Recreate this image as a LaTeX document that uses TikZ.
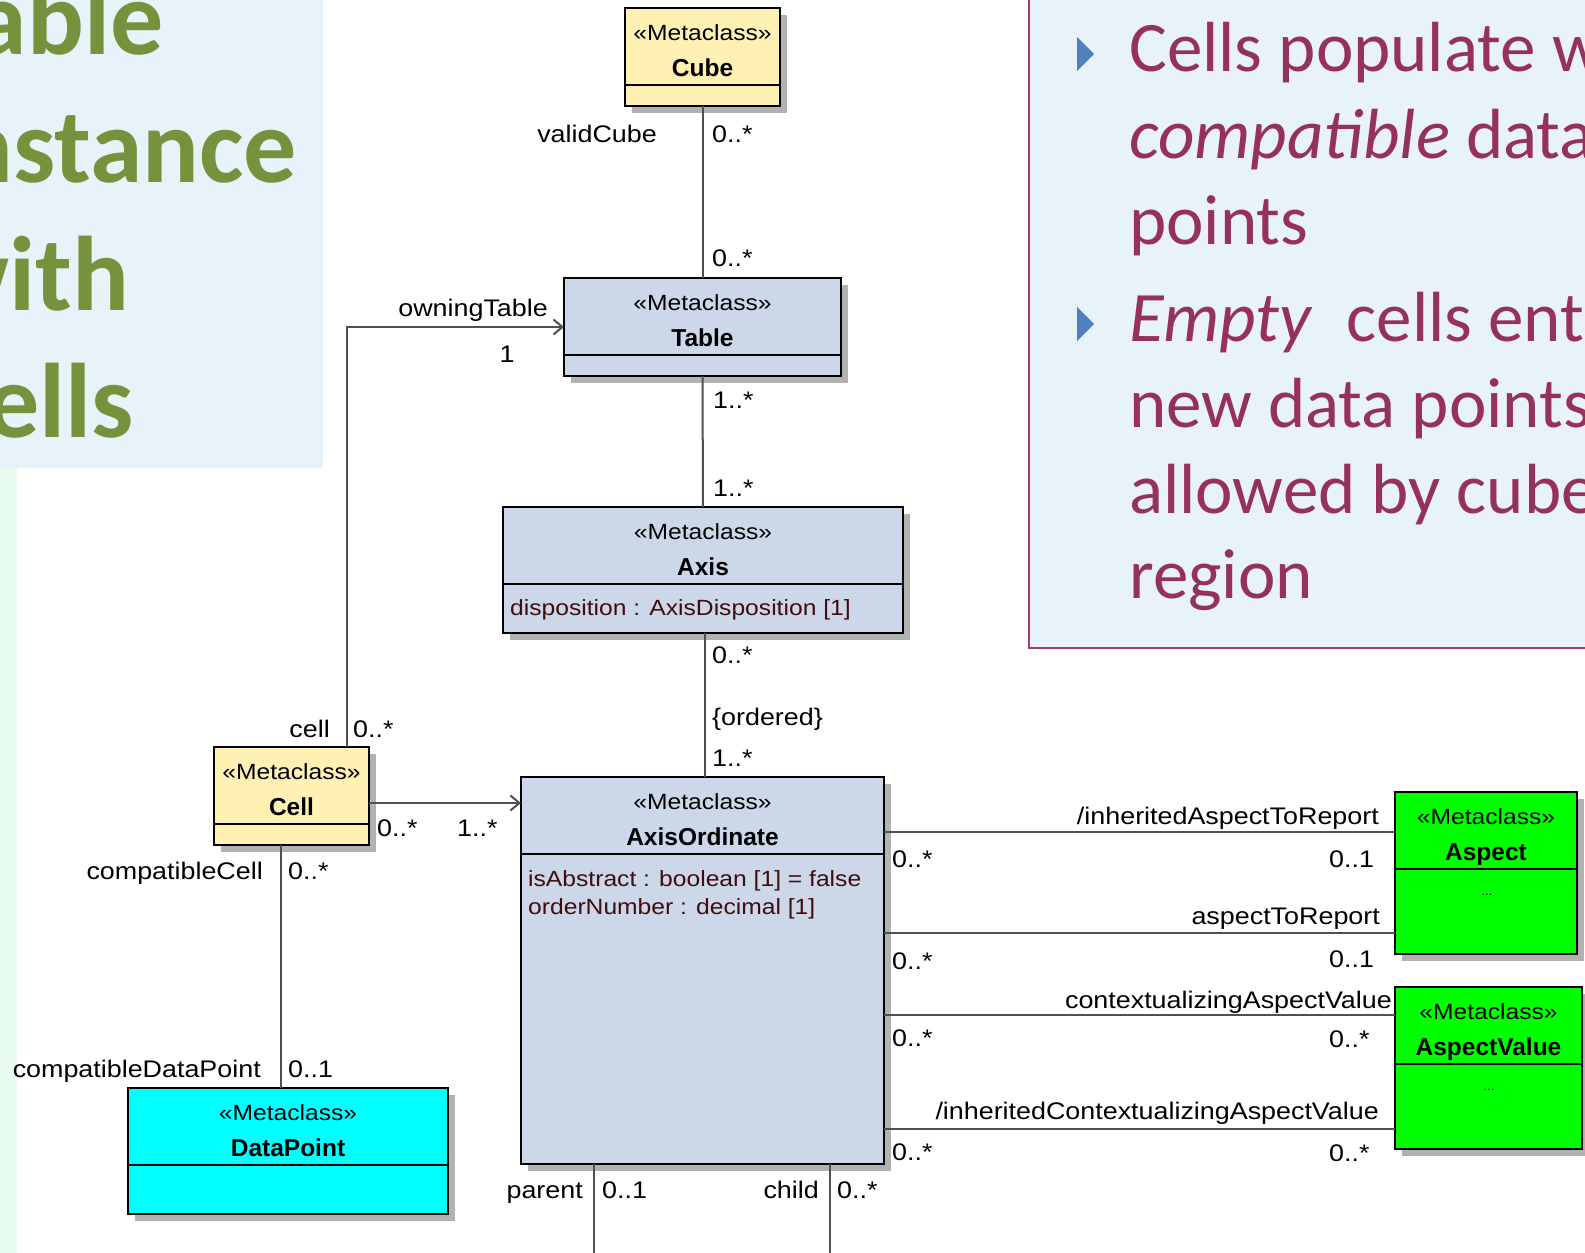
\documentclass[tikz,border=0pt]{standalone}
\usepackage{fontspec}
\setmainfont{Liberation Sans}
\newfontfamily\umlreg[FakeStretch=1.12]{Liberation Sans}
\newfontfamily\umlbf{Liberation Sans}
\newfontfamily\slidefam{Carlito}
\usetikzlibrary{arrows.meta}

\definecolor{yellowcls}{RGB}{255,240,180}
\definecolor{bluecls}{RGB}{204,215,234}
\definecolor{cyancls}{RGB}{0,255,255}
\definecolor{greencls}{RGB}{0,255,0}
\definecolor{shadowgray}{RGB}{178,178,178}
\definecolor{linegray}{RGB}{80,80,80}
\definecolor{attrred}{RGB}{64,12,12}
\definecolor{titlebg}{RGB}{231,243,249}
\definecolor{mint}{RGB}{233,252,240}
\definecolor{titlegreen}{RGB}{118,146,60}
\definecolor{bodymaroon}{RGB}{150,48,96}
\definecolor{panelborder}{RGB}{160,64,112}
\definecolor{bulletblue}{RGB}{79,129,189}

\newcommand\boxreg{\umlreg\fontsize{22}{26}\selectfont}
\newcommand\boxbold{\umlbf\bfseries\fontsize{24.5}{28}\selectfont}
\newcommand\lblfont{\umlreg\fontsize{24}{28}\selectfont}
\newcommand\tinydots{\umlreg\fontsize{12}{14}\selectfont}
\newcommand\ttlfont{\slidefam\bfseries\fontsize{106}{127}\selectfont}
\newcommand\bodyfnt{\slidefam\fontsize{71}{86}\selectfont}

\tikzset{
  classbox/.style={draw=black, line width=2.4pt, inner sep=0pt, outer sep=0pt, rectangle},
  assoc/.style={draw=linegray, line width=2pt},
  nav/.style={assoc, -{Straight Barb[length=9pt,width=15pt,line width=2pt]}},
  stereo/.style={anchor=base, font=\boxreg, inner sep=0pt},
  cname/.style={anchor=base, font=\boxbold, inner sep=0pt},
  attr/.style={anchor=base west, font=\boxreg, text=attrred, inner sep=0pt},
  lbl/.style={font=\lblfont, inner sep=0pt},
  lw/.style={lbl, anchor=base west},
  le/.style={lbl, anchor=base east},
  ttl/.style={anchor=base west, font=\ttlfont, text=titlegreen, inner sep=0pt},
  body/.style={anchor=base west, font=\bodyfnt, text=bodymaroon, inner sep=0pt},
}

% name, left, top, right, bottom, fill, class name
\newcommand\umlclass[7]{%
  \fill[shadowgray] ({#2+7},{#3+7}) rectangle ({#4+7},{#5+7});
  \node[classbox, fill=#6, minimum width={(#4-#2)*1pt}, minimum height={(#5-#3)*1pt}]
    (#1) at ({(#2+#4)/2},{(#3+#5)/2}) {};
  \draw[line width=2.4pt] ({#2},{#3+77}) -- ({#4},{#3+77});
  \node[stereo] (#1-st) at ({(#2+#4)/2},{#3+32}) {«Metaclass»};
  \node[cname] (#1-nm) at ({(#2+#4)/2},{#3+68}) {#7};
}

\begin{document}
\begin{tikzpicture}[x=1pt, y=-1pt]
\useasboundingbox (0,0) rectangle (1585,1253);
\clip (0,0) rectangle (1585,1253);
\fill[white] (0,0) rectangle (1585,1253);

% slide title panel
\fill[titlebg] (0,0) rectangle (323,468);
\fill[mint] (0,468) rectangle (17,1253);
\node[ttl] (t1) at (-70,54) {Table};
\node[ttl] (t2) at (-70,182) {instance};
\node[ttl] (t3) at (-70,310) {with};
\node[ttl] (t4) at (-70,437) {Cells};

% slide bullet panel
\filldraw[fill=titlebg, draw=panelborder, line width=2pt] (1029,-20) rectangle (1620,648);
\fill[bulletblue] (1077,37) -- (1094,54) -- (1077,71) -- cycle;
\fill[bulletblue] (1077,307) -- (1094,324) -- (1077,341) -- cycle;
\node[body] (b1) at (1129,71) {Cells populate w};
\node[body] (b2) at (1129,158) {\textit{compatible} data};
\node[body] (b3) at (1129,244) {points};
\node[body] (b4) at (1129,341) {\textit{Empty}\hspace{0.25em} cells ent};
\node[body] (b5) at (1129,427) {new data points};
\node[body] (b6) at (1129,513) {allowed by cube};
\node[body] (b7) at (1129,598) {region};

% classes
\umlclass{cube}{625}{8}{780}{106}{yellowcls}{Cube}
\umlclass{table}{564}{278}{841}{376}{bluecls}{Table}
\umlclass{axis}{503}{507}{903}{633}{bluecls}{Axis}
\node[attr] (axis-a1) at (510,615) {disposition : AxisDisposition [1]};
\umlclass{axord}{521}{777}{884}{1164}{bluecls}{AxisOrdinate}
\node[attr] (axord-a1) at (528,886) {isAbstract : boolean [1] = false};
\node[attr] (axord-a2) at (528,914) {orderNumber : decimal [1]};
\umlclass{cell}{214}{747}{369}{845}{yellowcls}{Cell}
\umlclass{dp}{128}{1088}{448}{1214}{cyancls}{DataPoint}
\umlclass{aspect}{1395}{792}{1577}{954}{greencls}{Aspect}
\node[anchor=base, font=\tinydots, inner sep=0pt] (aspect-d) at (1487,895) {...};
\umlclass{aval}{1395}{987}{1582}{1149}{greencls}{AspectValue}
\node[anchor=base, font=\tinydots, inner sep=0pt] (aval-d) at (1489,1090) {...};

% associations
\draw[assoc] (cube.south) -- (table.north);
\draw[assoc] (table.south) -- (axis.north);
\draw[assoc] ([xshift=2pt]axis.south) -- ([xshift=2pt]axis.south |- axord.north);
\draw[nav] ([xshift=55pt]cell.north) |- (table.west);
\draw[nav] ([yshift=-7pt]cell.east) -- ([yshift=-7pt]cell.east -| axord.west);
\draw[assoc] ([xshift=-11pt]cell.south) -- ([xshift=-11pt]cell.south |- dp.north);
\draw[assoc] (axord.east |- 0,832) -- (aspect.west |- 0,832);
\draw[assoc] (axord.east |- 0,933) -- (aspect.west |- 0,933);
\draw[assoc] (axord.east |- 0,1015) -- (aval.west |- 0,1015);
\draw[assoc] (axord.east |- 0,1129) -- (aval.west |- 0,1129);
\coordinate (parentEnd) at (594,1253);
\coordinate (childEnd) at (830,1253);
\draw[assoc] (axord.south -| parentEnd) -- (parentEnd);
\draw[assoc] (axord.south -| childEnd) -- (childEnd);

% association end labels
\node[le] at (657,142) {validCube};
\node[lw] at (712,142) {0..*};
\node[lw] at (712,266) {0..*};
\node[le] at (548,316) {owningTable};
\node[lbl, anchor=base] at (507,362) {1};
\node[lw] at (713,408) {1..*};
\node[lw] at (713,496) {1..*};
\node[lw] at (712,663) {0..*};
\node[lw] at (712,725) {\{ordered\}};
\node[lw] at (712,766) {1..*};
\node[le] at (330,737) {cell};
\node[lw] at (353,737) {0..*};
\node[lw] at (377,836) {0..*};
\node[lw] at (457,836) {1..*};
\node[le] at (263,879) {compatibleCell};
\node[lw] at (288,879) {0..*};
\node[le] at (261,1077) {compatibleDataPoint};
\node[lw] at (288,1077) {0..1};
\node[le] at (583,1198) {parent};
\node[lw] at (602,1198) {0..1};
\node[le] at (819,1198) {child};
\node[lw] at (837,1198) {0..*};

\node[le] at (1379,824) {/inheritedAspectToReport};
\node[lw] at (892,867) {0..*};
\node[lw] at (1329,867) {0..1};
\node[le] at (1380,924) {aspectToReport};
\node[lw] at (892,969) {0..*};
\node[lw] at (1329,967) {0..1};
\node[le] at (1392,1008) {contextualizingAspectValue};
\node[lw] at (892,1046) {0..*};
\node[lw] at (1329,1047) {0..*};
\node[le] at (1379,1119) {/inheritedContextualizingAspectValue};
\node[lw] at (892,1160) {0..*};
\node[lw] at (1329,1161) {0..*};
\end{tikzpicture}
\end{document}
